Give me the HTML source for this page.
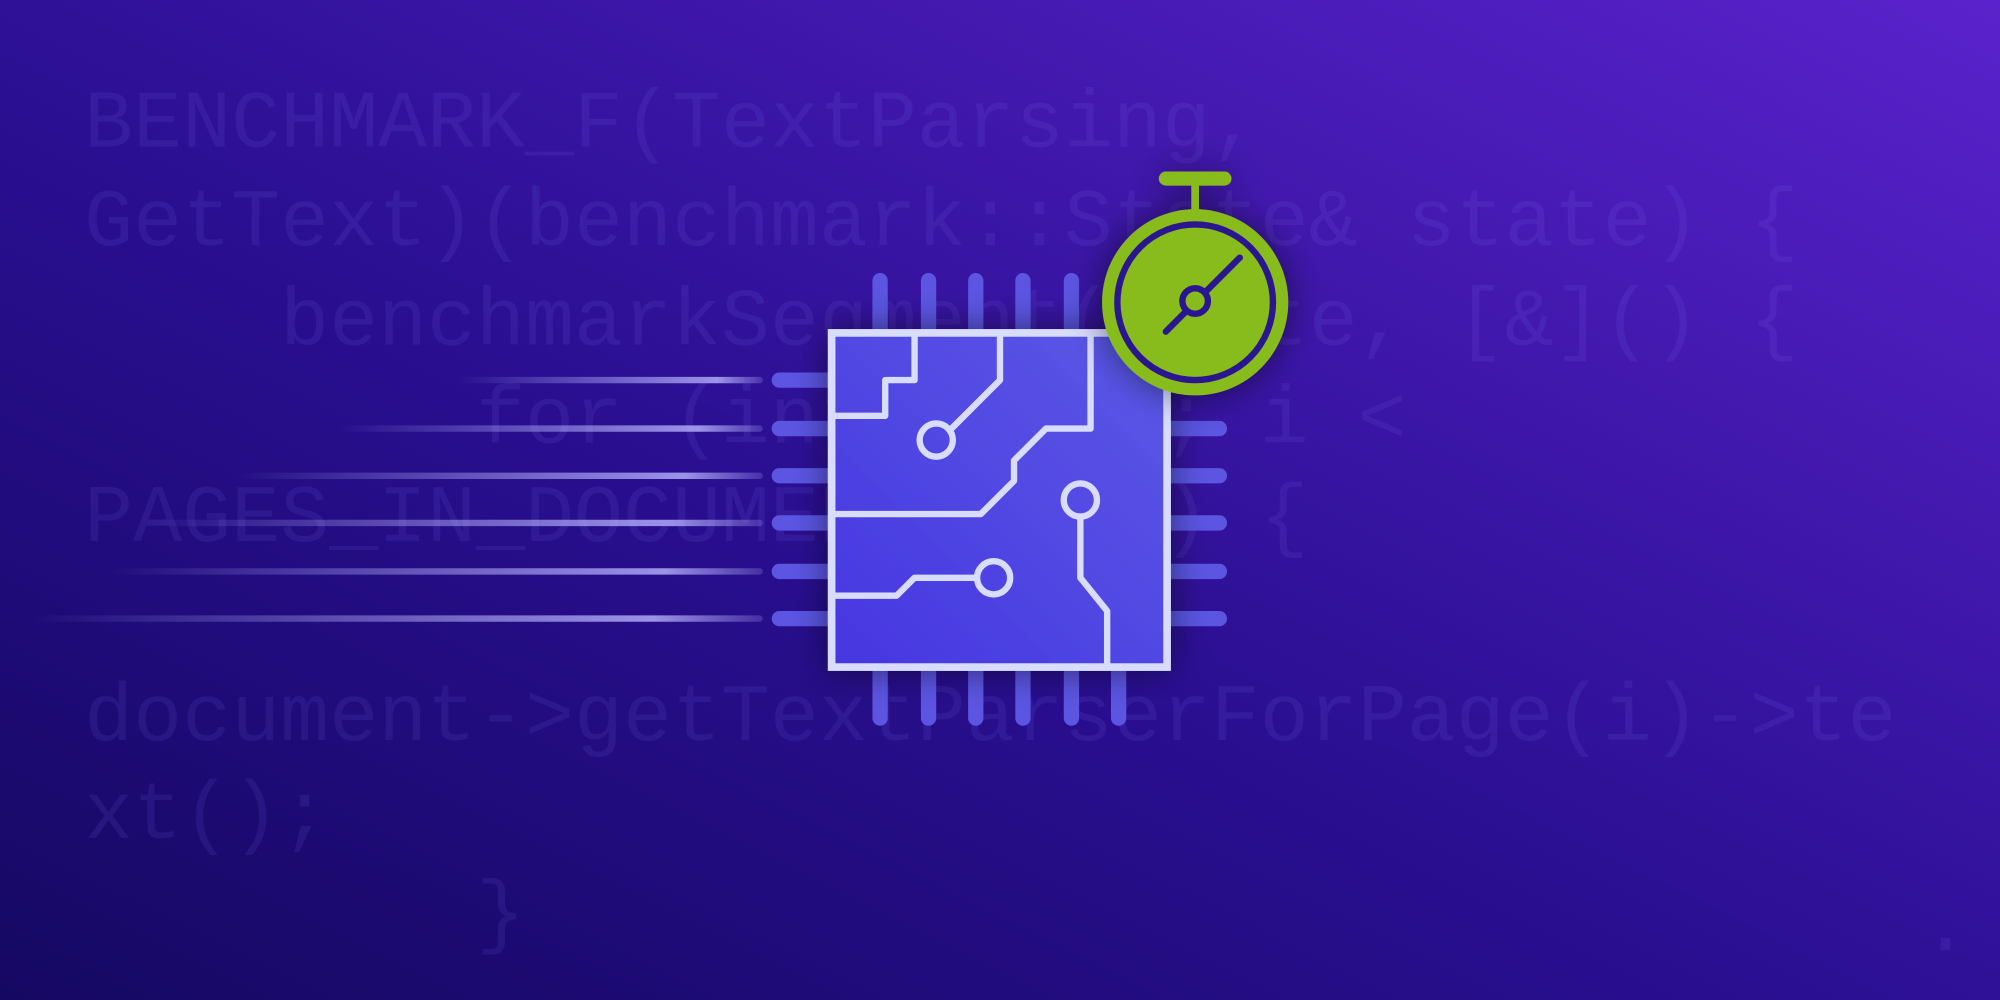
<!DOCTYPE html>
<html><head><meta charset="utf-8"><style>
html,body{margin:0;padding:0;width:2000px;height:1000px;overflow:hidden}
svg{display:block}
text{white-space:pre}
</style></head><body>
<svg width="2000" height="1000" viewBox="0 0 1568 784" preserveAspectRatio="none" xmlns="http://www.w3.org/2000/svg">
<defs>
<linearGradient id="bg" x1="0" y1="1" x2="1" y2="0">
<stop offset="0" stop-color="#150862"/>
<stop offset="0.45" stop-color="#2a0f92"/>
<stop offset="1" stop-color="#5a22cc"/>
</linearGradient>
<linearGradient id="chip" x1="0" y1="1" x2="1" y2="0">
<stop offset="0" stop-color="#4636e0"/>
<stop offset="1" stop-color="#5c58e6"/>
</linearGradient>
<linearGradient id="sl" x1="0" y1="0" x2="1" y2="0">
<stop offset="0" stop-color="#b8b4ff" stop-opacity="0"/>
<stop offset="0.85" stop-color="#b8b4ff" stop-opacity="0.8"/>
<stop offset="1" stop-color="#b8b4ff" stop-opacity="0.2"/>
</linearGradient>
<filter id="sh" x="-30%" y="-30%" width="160%" height="160%">
<feGaussianBlur in="SourceAlpha" stdDeviation="14"/>
<feComponentTransfer><feFuncA type="linear" slope="0.5"/></feComponentTransfer>
<feMerge><feMergeNode/><feMergeNode in="SourceGraphic"/></feMerge>
</filter>
</defs>
<rect width="1568" height="784" fill="url(#bg)"/>
<g font-family="Liberation Mono, monospace" font-size="64" fill="#8c7cff" fill-opacity="0.11">
<text x="66" y="115">BENCHMARK_F(TextParsing,</text>
<text x="66" y="192">GetText)(benchmark::State&amp; state) {</text>
<text x="66" y="270">    benchmarkSegment(state, [&amp;]() {</text>
<text x="66" y="347">        for (int p = 0; i &lt;</text>
<text x="66" y="424">PAGES_IN_DOCUMENT; ++i) {</text>
<text x="66" y="580">document-&gt;getTextParserForPage(i)-&gt;te</text>
<text x="66" y="657">xt();</text>
<text x="66" y="735">        }</text>
<text x="1506" y="745">.</text>
</g>
<g fill="url(#sl)">
<rect x="360" y="295.5" width="238" height="5" rx="2.5"/>
<rect x="265" y="333.5" width="333" height="5" rx="2.5"/>
<rect x="185" y="370.5" width="413" height="5" rx="2.5"/>
<rect x="110" y="407.5" width="488" height="5" rx="2.5"/>
<rect x="85" y="445.5" width="513" height="5" rx="2.5"/>
<rect x="25" y="482.5" width="573" height="5" rx="2.5"/>
</g>
<g stroke="#5b55e2" stroke-width="12" stroke-linecap="round">
<line x1="690" y1="220" x2="690" y2="262"/><line x1="728" y1="220" x2="728" y2="262"/><line x1="765" y1="220" x2="765" y2="262"/><line x1="802" y1="220" x2="802" y2="262"/><line x1="840" y1="220" x2="840" y2="262"/><line x1="877" y1="220" x2="877" y2="262"/>
<line x1="690" y1="522" x2="690" y2="563"/><line x1="728" y1="522" x2="728" y2="563"/><line x1="765" y1="522" x2="765" y2="563"/><line x1="802" y1="522" x2="802" y2="563"/><line x1="840" y1="522" x2="840" y2="563"/><line x1="877" y1="522" x2="877" y2="563"/>
<line x1="611" y1="298" x2="655" y2="298"/><line x1="611" y1="336" x2="655" y2="336"/><line x1="611" y1="373" x2="655" y2="373"/><line x1="611" y1="410" x2="655" y2="410"/><line x1="611" y1="448" x2="655" y2="448"/><line x1="611" y1="485" x2="655" y2="485"/>
<line x1="915" y1="298" x2="956" y2="298"/><line x1="915" y1="336" x2="956" y2="336"/><line x1="915" y1="373" x2="956" y2="373"/><line x1="915" y1="410" x2="956" y2="410"/><line x1="915" y1="448" x2="956" y2="448"/><line x1="915" y1="485" x2="956" y2="485"/>
</g>
<rect x="652" y="261" width="263" height="262" fill="url(#chip)" stroke="#d8dcff" stroke-width="6" filter="url(#sh)"/>
<g fill="none" stroke="#d8dcff" stroke-width="5" stroke-linejoin="round">
<polyline points="652,326 694,326 694,298 717,298 717,262"/>
<polyline points="784,262 784,298 744,338"/>
<circle cx="734" cy="345" r="13"/>
<polyline points="855,262 855,336 820,336 795,361 795,377 769,403 652,403"/>
<circle cx="847" cy="392" r="13"/>
<polyline points="847,405 847,453 868,479 868,522"/>
<circle cx="779" cy="453" r="13"/>
<polyline points="766,453 717,453 703,467 652,467"/>
</g>
<g filter="url(#sh)">
<line x1="937" y1="140" x2="937" y2="168" stroke="#88bb1a" stroke-width="6"/>
<line x1="914" y1="140" x2="960" y2="140" stroke="#88bb1a" stroke-width="11" stroke-linecap="round"/>
<circle cx="937" cy="237" r="73" fill="#88bb1a"/>
<circle cx="937" cy="237" r="61" fill="none" stroke="#2a1690" stroke-width="5"/>
<line x1="914" y1="260" x2="972" y2="202" stroke="#2a1690" stroke-width="5" stroke-linecap="round"/>
<circle cx="937" cy="236" r="10" fill="#88bb1a" stroke="#2a1690" stroke-width="5"/>
</g>
</svg>
</body></html>
